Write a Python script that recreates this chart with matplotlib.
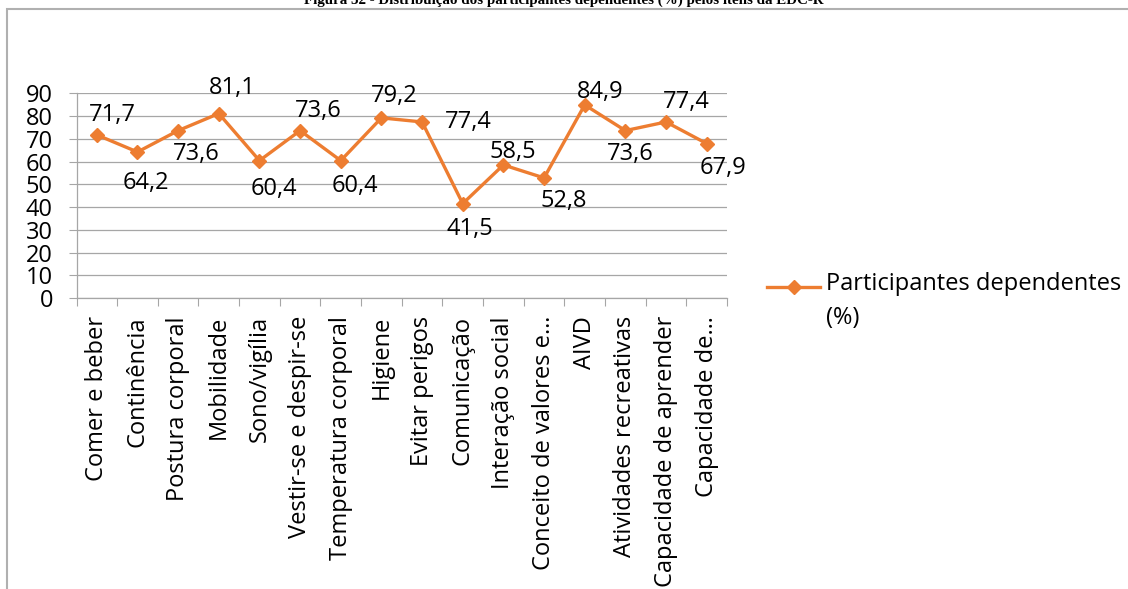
import matplotlib
matplotlib.use("Agg")
import matplotlib.pyplot as plt
from matplotlib.patches import Rectangle
from matplotlib.lines import Line2D

# --- dados ---
itens = ["Comer e beber", "Continência", "Postura corporal", "Mobilidade",
         "Sono/vigília", "Vestir-se e despir-se", "Temperatura corporal",
         "Higiene", "Evitar perigos", "Comunicação", "Interação social",
         "Conceito de valores e…", "AIVD", "Atividades recreativas",
         "Capacidade de aprender", "Capacidade de…"]
dependentes = [71.7, 64.2, 73.6, 81.1, 60.4, 73.6, 60.4, 79.2,
               77.4, 41.5, 58.5, 52.8, 84.9, 73.6, 77.4, 67.9]
serie = "Participantes dependentes\n(%)"
titulo = "Figura 32 - Distribuição dos participantes dependentes (%) pelos itens da EDC-R"

# posições dos rótulos (deslocamento em px, como no Excel)
offsets = [(16, 20), (8, -31), (18, -23), (14, 26), (14, -28), (18, 20),
           (14, -25), (13, 22), (46, 0), (7, -25), (9, 13), (20, -23),
           (15, 13), (5, -23), (20, 20), (16, -24)]

laranja = "#ED7D31"
cinza = "#A6A6A6"
plt.rcParams["font.family"] = ["Open Sans", "DejaVu Sans"]
fs = 17

fig = plt.figure(figsize=(11.28, 5.89), dpi=100)
W, H = 1128, 589
ax = fig.add_axes([76.5 / W, 1 - 298 / H, (727 - 76.5) / W, (298 - 93.3) / H])

x = list(range(len(itens)))
ax.plot(x, dependentes, color=laranja, lw=2.4, marker="D", markersize=7)

for xi, yi, (dx, dy) in zip(x, dependentes, offsets):
    ax.annotate(f"{yi:.1f}".replace(".", ","), (xi, yi),
                xytext=(dx * 0.72, dy * 0.72), textcoords="offset points",
                ha="center", va="center", fontsize=fs, color="black")

ax.set_xlim(-0.5, len(itens) - 0.5)
ax.set_ylim(0, 90)
ax.set_yticks(range(0, 91, 10))
ax.tick_params(axis="y", labelsize=fs, length=6, width=0.8, color=cinza, pad=11)
ax.grid(axis="y", color=cinza, lw=0.9)
ax.set_axisbelow(True)

# ticks entre categorias, rótulos no centro
ax.set_xticks([i - 0.5 for i in range(len(itens) + 1)])
ax.set_xticklabels([])
ax.set_xticks(x, minor=True)
ax.set_xticklabels(itens, minor=True, rotation=90, fontsize=fs, va="top", ha="center")
ax.tick_params(axis="x", which="major", length=6, width=0.8, color=cinza)
ax.tick_params(axis="x", which="minor", length=0, pad=13)

for s in ["top", "right"]:
    ax.spines[s].set_visible(False)
for s in ["left", "bottom"]:
    ax.spines[s].set_color(cinza)
    ax.spines[s].set_linewidth(0.9)

# legenda desenhada à mão (marcador alinhado à primeira linha)
ly = 1 - 287 / H
fig.add_artist(Line2D([767 / W, 820 / W], [ly, ly], transform=fig.transFigure,
                      color=laranja, lw=2.4, marker="D", markersize=7,
                      markevery=[]))
fig.add_artist(Line2D([793.5 / W], [ly], transform=fig.transFigure,
                      color=laranja, marker="D", markersize=7, lw=0))
fig.text(826 / W, 1 - 272 / H, serie, ha="left", va="top", fontsize=fs,
         linespacing=1.55)

# moldura do gráfico
fig.add_artist(Rectangle((6.5 / W, -0.1), 1.2, 1.1 - 8.5 / H,
                         transform=fig.transFigure, fill=False,
                         edgecolor="#B0B0B0", lw=1.5))
fig.text(0.5, 1 - 4 / H, titulo, ha="center", va="baseline", fontsize=10.8,
         fontweight="bold", family="Liberation Serif")

fig.savefig("out.png", dpi=100)
